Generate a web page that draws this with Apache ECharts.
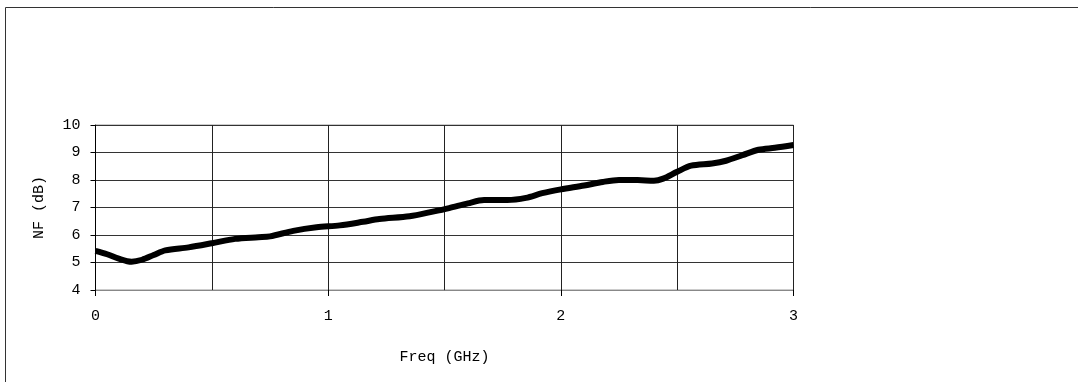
<!DOCTYPE html>
<html><head><meta charset="utf-8">
<script src="https://cdn.jsdelivr.net/npm/echarts@6/dist/echarts.min.js"></script>
<style>html,body{margin:0;padding:0;background:#fff}#c{width:1078px;height:382px}</style>
</head><body><div id="c"></div>
<script>
const freqGHz = [0, 0.05, 0.1, 0.155, 0.2, 0.25, 0.3, 0.4, 0.5, 0.6, 0.7, 0.75, 0.85, 0.95, 1.05, 1.15, 1.22, 1.35, 1.45, 1.52, 1.6, 1.67, 1.77, 1.85, 1.92, 2.0, 2.1, 2.18, 2.25, 2.33, 2.4, 2.44, 2.5, 2.56, 2.65, 2.71, 2.78, 2.85, 2.92, 3.0];
const nfDb = [5.42, 5.30, 5.14, 5.03, 5.10, 5.27, 5.44, 5.55, 5.70, 5.86, 5.92, 5.95, 6.15, 6.28, 6.35, 6.48, 6.58, 6.68, 6.85, 6.98, 7.15, 7.27, 7.27, 7.35, 7.52, 7.66, 7.80, 7.93, 8.00, 8.00, 7.97, 8.05, 8.30, 8.52, 8.60, 8.70, 8.90, 9.10, 9.17, 9.27];
const xTickLabels = [0, 1, 2, 3];
const yAxisName = 'NF (dB)';
const xAxisName = 'Freq (GHz)';

const font = 'Liberation Mono';
const chart = echarts.init(document.getElementById('c'), null, {renderer: 'canvas'});
chart.setOption({
  animation: false,
  backgroundColor: '#fff',
  graphic: [{
    type: 'rect', left: 3, top: 5, z: -1,
    shape: {x: 0, y: 0, width: 1073, height: 376},
    style: {fill: 'none', stroke: '#333', lineWidth: 1}
  }],
  grid: {left: 95.5, top: 125, right: 284.5, bottom: 92, show: true, borderColor: '#999', borderWidth: 1, backgroundColor: 'transparent'},
  xAxis: [{
    type: 'value', min: 0, max: 3, interval: 0.5,
    name: xAxisName, nameLocation: 'middle', nameGap: 60,
    nameTextStyle: {fontFamily: font, fontSize: 15, color: '#000'},
    axisLine: {show: true, lineStyle: {color: '#888', width: 1}},
    axisTick: {show: false},
    axisLabel: {fontFamily: font, fontSize: 15, color: '#000', margin: 19,
      formatter: v => (xTickLabels.includes(v) ? String(v) : '')},
    splitLine: {show: true, lineStyle: {color: '#222', width: 1}}
  }, {
    type: 'value', min: 0, max: 3, interval: 1, position: 'bottom',
    axisLine: {show: false},
    axisTick: {show: true, length: 6, lineStyle: {color: '#000'}},
    axisLabel: {show: false},
    splitLine: {show: false}
  }],
  yAxis: {
    type: 'value', min: 4, max: 10, interval: 1,
    name: yAxisName, nameLocation: 'middle', nameGap: 49, nameRotate: 90,
    nameTextStyle: {fontFamily: font, fontSize: 15, color: '#000'},
    axisLine: {show: true, lineStyle: {color: '#000', width: 1}},
    axisTick: {show: true, length: 5, lineStyle: {color: '#000'}},
    axisLabel: {fontFamily: font, fontSize: 15, color: '#000', margin: 15},
    splitLine: {show: true, lineStyle: {color: '#333', width: 1}}
  },
  series: [{
    type: 'line', smooth: 0.3, showSymbol: false, xAxisIndex: 0,
    data: freqGHz.map((f, i) => [f, nfDb[i]]),
    lineStyle: {color: '#000', width: 6},
    itemStyle: {color: '#000'}
  }]
});
</script></body></html>
